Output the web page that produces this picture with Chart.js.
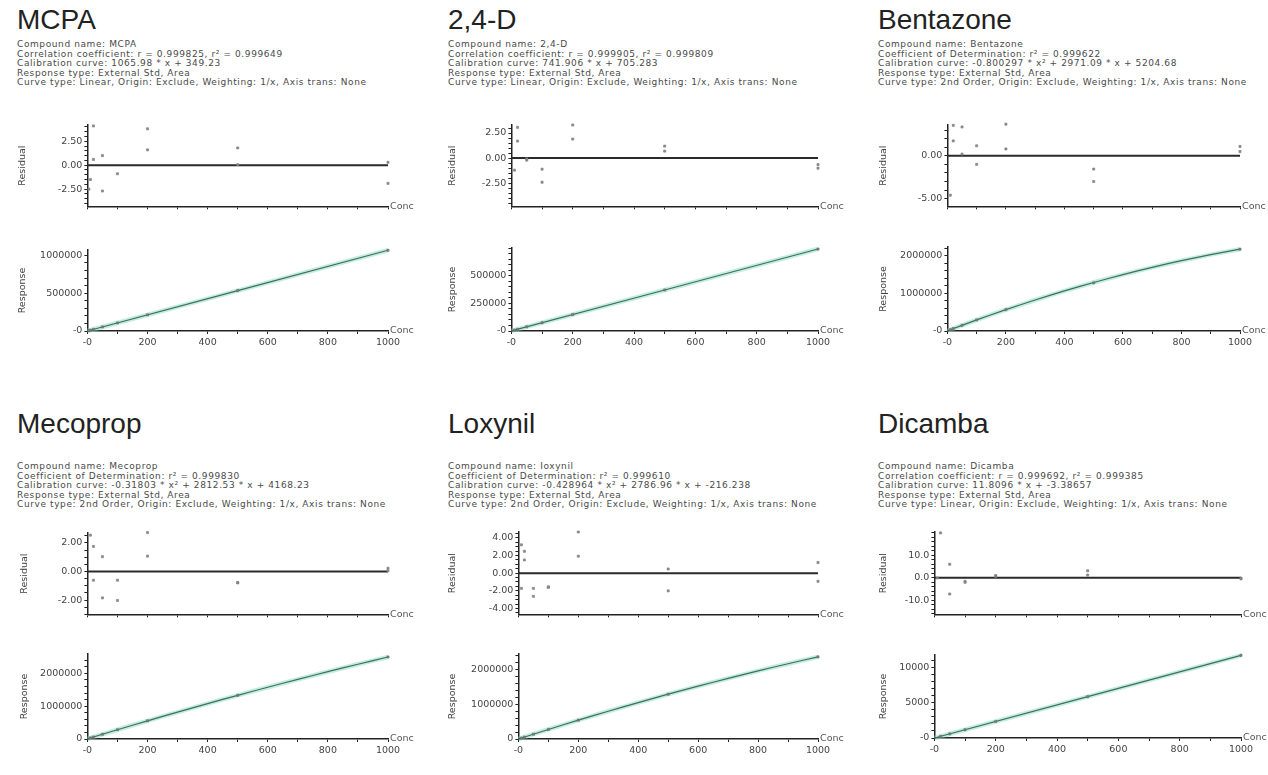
<!DOCTYPE html>
<html>
<head>
<meta charset="utf-8">
<script src="https://cdn.jsdelivr.net/npm/chart.js@4.4.1/dist/chart.umd.min.js"></script>
<style>
body{margin:0;background:#fff;width:1268px;height:775px;overflow:hidden;position:relative;}
.title{position:absolute;font:28px "Liberation Sans",Arial,sans-serif;line-height:28px;color:#222;white-space:nowrap;}
.info{position:absolute;font:9px "DejaVu Sans",sans-serif;letter-spacing:0.6px;line-height:9.5px;color:#4a4a4a;white-space:pre;}
canvas{position:absolute;}
</style>
</head>
<body>
<script>
// concentration axis, shared by every plot
var concTicks = [0, 200, 400, 600, 800, 1000];

// MCPA
var mcpaInfo = ['Compound name: MCPA', 'Correlation coefficient: r = 0.999825, r\u00b2 = 0.999649', 'Calibration curve: 1065.98 * x + 349.23', 'Response type: External Std, Area', 'Curve type: Linear, Origin: Exclude, Weighting: 1/x, Axis trans: None'];
var mcpaResX = [5, 10, 20, 20, 50, 50, 100, 200, 200, 500, 500, 1000, 1000];
var mcpaResY = [-2.5, -1.5, 4.1, 0.6, 1.0, -2.7, -0.9, 3.8, 1.6, 1.8, 0.05, 0.3, -1.9];
var mcpaStdX = [5, 10, 20, 50, 100, 200, 500, 1000];
var mcpaStdY = [5700, 11000, 21700, 53600, 107000, 213500, 534000, 1066300];
var mcpaFitX = [0, 1000];
var mcpaFitY = [349, 1066329];
var mcpaResTicks = [-2.5, 0, 2.5];
var mcpaRespTicks = [0, 500000, 1000000];

// 2,4-D
var d24Info = ['Compound name: 2,4-D', 'Correlation coefficient: r = 0.999905, r\u00b2 = 0.999809', 'Calibration curve: 741.906 * x + 705.283', 'Response type: External Std, Area', 'Curve type: Linear, Origin: Exclude, Weighting: 1/x, Axis trans: None'];
var d24ResX = [10, 20, 20, 50, 50, 100, 100, 200, 200, 500, 500, 1000, 1000];
var d24ResY = [-1.2, 3.07, 1.7, -0.07, -0.2, -1.1, -2.4, 3.3, 1.9, 1.2, 0.7, -0.65, -1.0];
var d24StdX = [10, 20, 50, 100, 200, 500, 1000];
var d24StdY = [8100, 15500, 37800, 74900, 149100, 371700, 742600];
var d24FitX = [0, 1000];
var d24FitY = [705, 742611];
var d24ResTicks = [-2.5, 0, 2.5];
var d24RespTicks = [0, 250000, 500000];

// Bentazone
var bentInfo = ['Compound name: Bentazone', 'Coefficient of Determination: r\u00b2 = 0.999622', 'Calibration curve: -0.800297 * x\u00b2 + 2971.09 * x + 5204.68', 'Response type: External Std, Area', 'Curve type: 2nd Order, Origin: Exclude, Weighting: 1/x, Axis trans: None'];
var bentResX = [10, 20, 20, 50, 50, 100, 100, 200, 200, 500, 500, 1000, 1000];
var bentResY = [-4.6, 3.56, 1.74, 3.37, 0.2, 1.17, -1.0, 3.7, 0.8, -1.55, -3.0, 1.1, 0.5];
var bentStdX = [10, 20, 50, 100, 200, 500, 1000];
var bentStdY = [34800, 64300, 151800, 294300, 567400, 1280000, 2176000];
var bentFitX = [0, 100, 200, 300, 400, 500, 600, 700, 800, 900, 1000];
var bentFitY = [5205, 294311, 567411, 824505, 1065593, 1290676, 1499752, 1692822, 1869887, 2030945, 2175998];
var bentResTicks = [-5, 0];
var bentRespTicks = [0, 1000000, 2000000];

// Mecoprop
var mecoInfo = ['Compound name: Mecoprop', 'Coefficient of Determination: r\u00b2 = 0.999830', 'Calibration curve: -0.31803 * x\u00b2 + 2812.53 * x + 4168.23', 'Response type: External Std, Area', 'Curve type: 2nd Order, Origin: Exclude, Weighting: 1/x, Axis trans: None'];
var mecoResX = [10, 20, 20, 50, 50, 100, 100, 200, 200, 500, 500, 1000, 1000];
var mecoResY = [2.55, 1.76, -0.61, 1.04, -1.85, -0.61, -2.03, 2.73, 1.08, -0.77, -0.8, 0.23, 0.05];
var mecoStdX = [10, 20, 50, 100, 200, 500, 1000];
var mecoStdY = [32300, 60300, 144000, 282200, 554000, 1331000, 2498700];
var mecoFitX = [0, 100, 200, 300, 400, 500, 600, 700, 800, 900, 1000];
var mecoFitY = [4168, 282241, 553953, 819304, 1078295, 1330925, 1577195, 1817104, 2050653, 2277841, 2498668];
var mecoResTicks = [-2, 0, 2];
var mecoRespTicks = [0, 1000000, 2000000];

// Ioxynil
var ioxInfo = ['Compound name: Ioxynil', 'Coefficient of Determination: r\u00b2 = 0.999610', 'Calibration curve: -0.428964 * x\u00b2 + 2786.96 * x + -216.238', 'Response type: External Std, Area', 'Curve type: 2nd Order, Origin: Exclude, Weighting: 1/x, Axis trans: None'];
var ioxResX = [10, 10, 20, 20, 50, 50, 100, 100, 200, 200, 500, 500, 1000, 1000];
var ioxResY = [3.2, -1.72, 2.47, 1.49, -1.72, -2.62, -1.6, -1.55, 4.65, 1.92, 0.47, -2.0, 1.2, -0.92];
var ioxStdX = [10, 20, 50, 100, 200, 500, 1000];
var ioxStdY = [27600, 55400, 138100, 274200, 540000, 1286000, 2357800];
var ioxFitX = [0, 100, 200, 300, 400, 500, 600, 700, 800, 900, 1000];
var ioxFitY = [-216, 274190, 540017, 797265, 1045934, 1286023, 1517533, 1740464, 1954815, 2160587, 2357780];
var ioxResTicks = [-4, -2, 0, 2, 4];
var ioxRespTicks = [0, 1000000, 2000000];

// Dicamba
var dicInfo = ['Compound name: Dicamba', 'Correlation coefficient: r = 0.999692, r\u00b2 = 0.999385', 'Calibration curve: 11.8096 * x + -3.38657', 'Response type: External Std, Area', 'Curve type: Linear, Origin: Exclude, Weighting: 1/x, Axis trans: None'];
var dicResX = [10, 20, 50, 50, 100, 100, 200, 200, 500, 500, 1000, 1000];
var dicResY = [-0.1, 19.9, 6.0, -7.2, -1.6, -2.0, 1.0, 0.6, 3.1, 1.2, -0.2, -0.5];
var dicStdX = [20, 50, 100, 200, 500, 1000];
var dicStdY = [233, 587, 1178, 2358, 5901, 11806];
var dicFitX = [0, 1000];
var dicFitY = [-3.4, 11806.2];
var dicResTicks = [-10, 0, 10];
var dicRespTicks = [0, 5000, 10000];

var panels = [
  {name: 'MCPA', info: mcpaInfo, textX: 17, titleTop: 6, infoTop: 40, labelX: 22,
   res: {x: mcpaResX, y: mcpaResY, ticks: mcpaResTicks, left: 87, right: 388, top: 125, bottom: 209, min: -4.3, max: 4.2, minor: 0.5, dec: 2},
   resp: {x: mcpaStdX, y: mcpaStdY, fx: mcpaFitX, fy: mcpaFitY, ticks: mcpaRespTicks, left: 87, right: 388, top: 250, bottom: 331, max: 1070000, minor: 100000, zero: '-0'}},
  {name: '2,4-D', info: d24Info, textX: 448, titleTop: 6, infoTop: 40, labelX: 452,
   res: {x: d24ResX, y: d24ResY, ticks: d24ResTicks, left: 511, right: 818, top: 125, bottom: 209, min: -4.8, max: 3.3, minor: 0.5, dec: 2},
   resp: {x: d24StdX, y: d24StdY, fx: d24FitX, fy: d24FitY, ticks: d24RespTicks, left: 511, right: 818, top: 248, bottom: 331, max: 752000, minor: 50000, zero: '-0'}},
  {name: 'Bentazone', info: bentInfo, textX: 878, titleTop: 6, infoTop: 40, labelX: 883,
   res: {x: bentResX, y: bentResY, ticks: bentResTicks, left: 947, right: 1240, top: 125, bottom: 209, min: -5.9, max: 3.6, minor: 1, dec: 2},
   resp: {x: bentStdX, y: bentStdY, fx: bentFitX, fy: bentFitY, ticks: bentRespTicks, left: 947, right: 1240, top: 247, bottom: 331, max: 2234000, minor: 200000, zero: '-0'}},
  {name: 'Mecoprop', info: mecoInfo, textX: 17, titleTop: 410, infoTop: 462, labelX: 24,
   res: {x: mecoResX, y: mecoResY, ticks: mecoResTicks, left: 87, right: 388, top: 533, bottom: 617, min: -3.0, max: 2.7, minor: 0.5, dec: 2},
   resp: {x: mecoStdX, y: mecoStdY, fx: mecoFitX, fy: mecoFitY, ticks: mecoRespTicks, left: 87, right: 388, top: 654, bottom: 739, max: 2590000, minor: 200000, zero: '0'}},
  {name: 'Loxynil', info: ioxInfo, textX: 448, titleTop: 410, infoTop: 462, labelX: 452,
   res: {x: ioxResX, y: ioxResY, ticks: ioxResTicks, left: 518, right: 818, top: 532, bottom: 617, min: -4.65, max: 4.65, minor: 0.5, dec: 2},
   resp: {x: ioxStdX, y: ioxStdY, fx: ioxFitX, fy: ioxFitY, ticks: ioxRespTicks, left: 518, right: 818, top: 654, bottom: 739, max: 2440000, minor: 200000, zero: '0'}},
  {name: 'Dicamba', info: dicInfo, textX: 878, titleTop: 410, infoTop: 462, labelX: 883,
   res: {x: dicResX, y: dicResY, ticks: dicResTicks, left: 934, right: 1241, top: 532, bottom: 617, min: -16.2, max: 20.3, minor: 2, dec: 1},
   resp: {x: dicStdX, y: dicStdY, fx: dicFitX, fy: dicFitY, ticks: dicRespTicks, left: 934, right: 1241, top: 655, bottom: 738, max: 11850, minor: 1000, zero: '-0'}}
];

var tickFont = {family: 'DejaVu Sans', size: 9.5};
var axisColor = '#222';

// "Conc" written at the right end of each x axis
var concLabel = {
  id: 'concLabel',
  afterDraw: function(chart){
    var ctx = chart.ctx, a = chart.chartArea;
    ctx.save();
    ctx.font = '9.5px "DejaVu Sans"';
    ctx.fillStyle = '#555';
    ctx.textBaseline = 'middle';
    ctx.fillText('Conc', a.right + 2, a.bottom);
    ctx.restore();
  }
};

function points(xs, ys){
  var out = [];
  for (var i = 0; i < xs.length; i++) out.push({x: xs[i], y: ys[i]});
  return out;
}

function stepList(min, max, step){
  var out = [];
  for (var k = Math.ceil(min / step - 1e-9); k * step <= max + 1e-9; k++) out.push(+(k * step).toFixed(6));
  return out;
}

function isMajor(v, majors){
  for (var i = 0; i < majors.length; i++){
    if (Math.abs(majors[i] - v) < 1e-6 * Math.max(1, Math.abs(v))) return true;
  }
  return false;
}

function xScale(withLabels, height){
  var list = stepList(0, 1000, 100);
  return {
    type: 'linear', min: 0, max: 1000,
    afterBuildTicks: function(s){ s.ticks = list.map(function(v){ return {value: v}; }); },
    afterFit: function(s){ s.height = height; },
    grid: {drawOnChartArea: false, drawTicks: true, tickLength: 3, color: axisColor},
    border: {display: true, color: axisColor, width: 1.5},
    ticks: {
      autoSkip: false, maxRotation: 0, padding: 3, font: tickFont, color: '#444',
      callback: function(v){
        if (!withLabels || !isMajor(v, concTicks)) return '';
        return v === 0 ? '-0' : String(v);
      }
    }
  };
}

function yScale(title, min, max, minor, majors, width, fmt){
  var list = stepList(min, max, minor);
  return {
    type: 'linear', min: min, max: max,
    afterBuildTicks: function(s){ s.ticks = list.map(function(v){ return {value: v}; }); },
    afterFit: function(s){ s.width = width; },
    grid: {drawOnChartArea: false, drawTicks: true, tickLength: 3, color: axisColor},
    border: {display: true, color: axisColor, width: 1.5},
    title: {display: true, text: title, font: tickFont, color: '#444', padding: 0},
    ticks: {
      autoSkip: false, padding: 2, font: tickFont, color: '#444',
      callback: function(v){ return isMajor(v, majors) ? fmt(v) : ''; }
    }
  };
}

function addCanvas(left, top, width, height){
  var c = document.createElement('canvas');
  c.width = width; c.height = height;
  c.style.left = left + 'px'; c.style.top = top + 'px';
  c.style.width = width + 'px'; c.style.height = height + 'px';
  document.body.appendChild(c);
  return c;
}

function drawResidual(p){
  var r = p.res, padTop = 8, padRight = 34, xh = 5;
  var cl = p.labelX - 5.4, ct = r.top - padTop;
  var w = Math.round(r.right - cl + padRight), h = Math.round(r.bottom - ct + xh);
  var c = addCanvas(cl, ct, w, h);
  new Chart(c.getContext('2d'), {
    type: 'scatter',
    data: {
      datasets: [
        {type: 'scatter', data: points(r.x, r.y), pointStyle: 'rect', pointRadius: 1.5, backgroundColor: '#8e8e8e', borderColor: '#7a7a7a', borderWidth: 0.6, clip: false},
        {type: 'line', data: [{x: 0, y: 0}, {x: 1000, y: 0}], borderColor: '#2a2a2a', borderWidth: 2, pointRadius: 0, clip: false}
      ]
    },
    options: {
      responsive: false, animation: false, devicePixelRatio: 1,
      layout: {padding: {top: padTop, right: padRight, left: 0, bottom: 0}},
      plugins: {legend: {display: false}, tooltip: {enabled: false}},
      scales: {
        x: xScale(false, xh),
        y: yScale('Residual', r.min, r.max, r.minor, r.ticks, r.left - cl, function(v){ return v.toFixed(r.dec); })
      }
    },
    plugins: [concLabel]
  });
}

function drawResponse(p){
  var r = p.resp, padTop = 8, padRight = 34, xh = 18;
  var cl = p.labelX - 5.4, ct = r.top - padTop;
  var w = Math.round(r.right - cl + padRight), h = Math.round(r.bottom - ct + xh);
  var c = addCanvas(cl, ct, w, h);
  var fit = points(r.fx, r.fy);
  new Chart(c.getContext('2d'), {
    type: 'scatter',
    data: {
      datasets: [
        {type: 'scatter', data: points(r.x, r.y), pointStyle: 'rect', pointRadius: 1.5, backgroundColor: '#7a8a84', borderColor: '#666', borderWidth: 0.6, clip: false},
        {type: 'line', data: fit, borderColor: '#3f6e60', borderWidth: 1.2, pointRadius: 0, tension: 0.3, clip: false},
        {type: 'line', data: fit, borderColor: 'rgba(120, 214, 184, 0.45)', borderWidth: 4.5, pointRadius: 0, tension: 0.3, clip: false}
      ]
    },
    options: {
      responsive: false, animation: false, devicePixelRatio: 1,
      layout: {padding: {top: padTop, right: padRight, left: 0, bottom: 0}},
      plugins: {legend: {display: false}, tooltip: {enabled: false}},
      scales: {
        x: xScale(true, xh),
        y: yScale('Response', 0, r.max, r.minor, r.ticks, r.left - cl, function(v){ return v === 0 ? r.zero : String(v); })
      }
    },
    plugins: [concLabel]
  });
}

panels.forEach(function(p){
  var t = document.createElement('div');
  t.className = 'title';
  t.style.left = p.textX + 'px'; t.style.top = p.titleTop + 'px';
  t.textContent = p.name;
  document.body.appendChild(t);

  var info = document.createElement('div');
  info.className = 'info';
  info.style.left = p.textX + 'px'; info.style.top = p.infoTop + 'px';
  info.textContent = p.info.join('\n');
  document.body.appendChild(info);

  drawResidual(p);
  drawResponse(p);
});
</script>
</body>
</html>
